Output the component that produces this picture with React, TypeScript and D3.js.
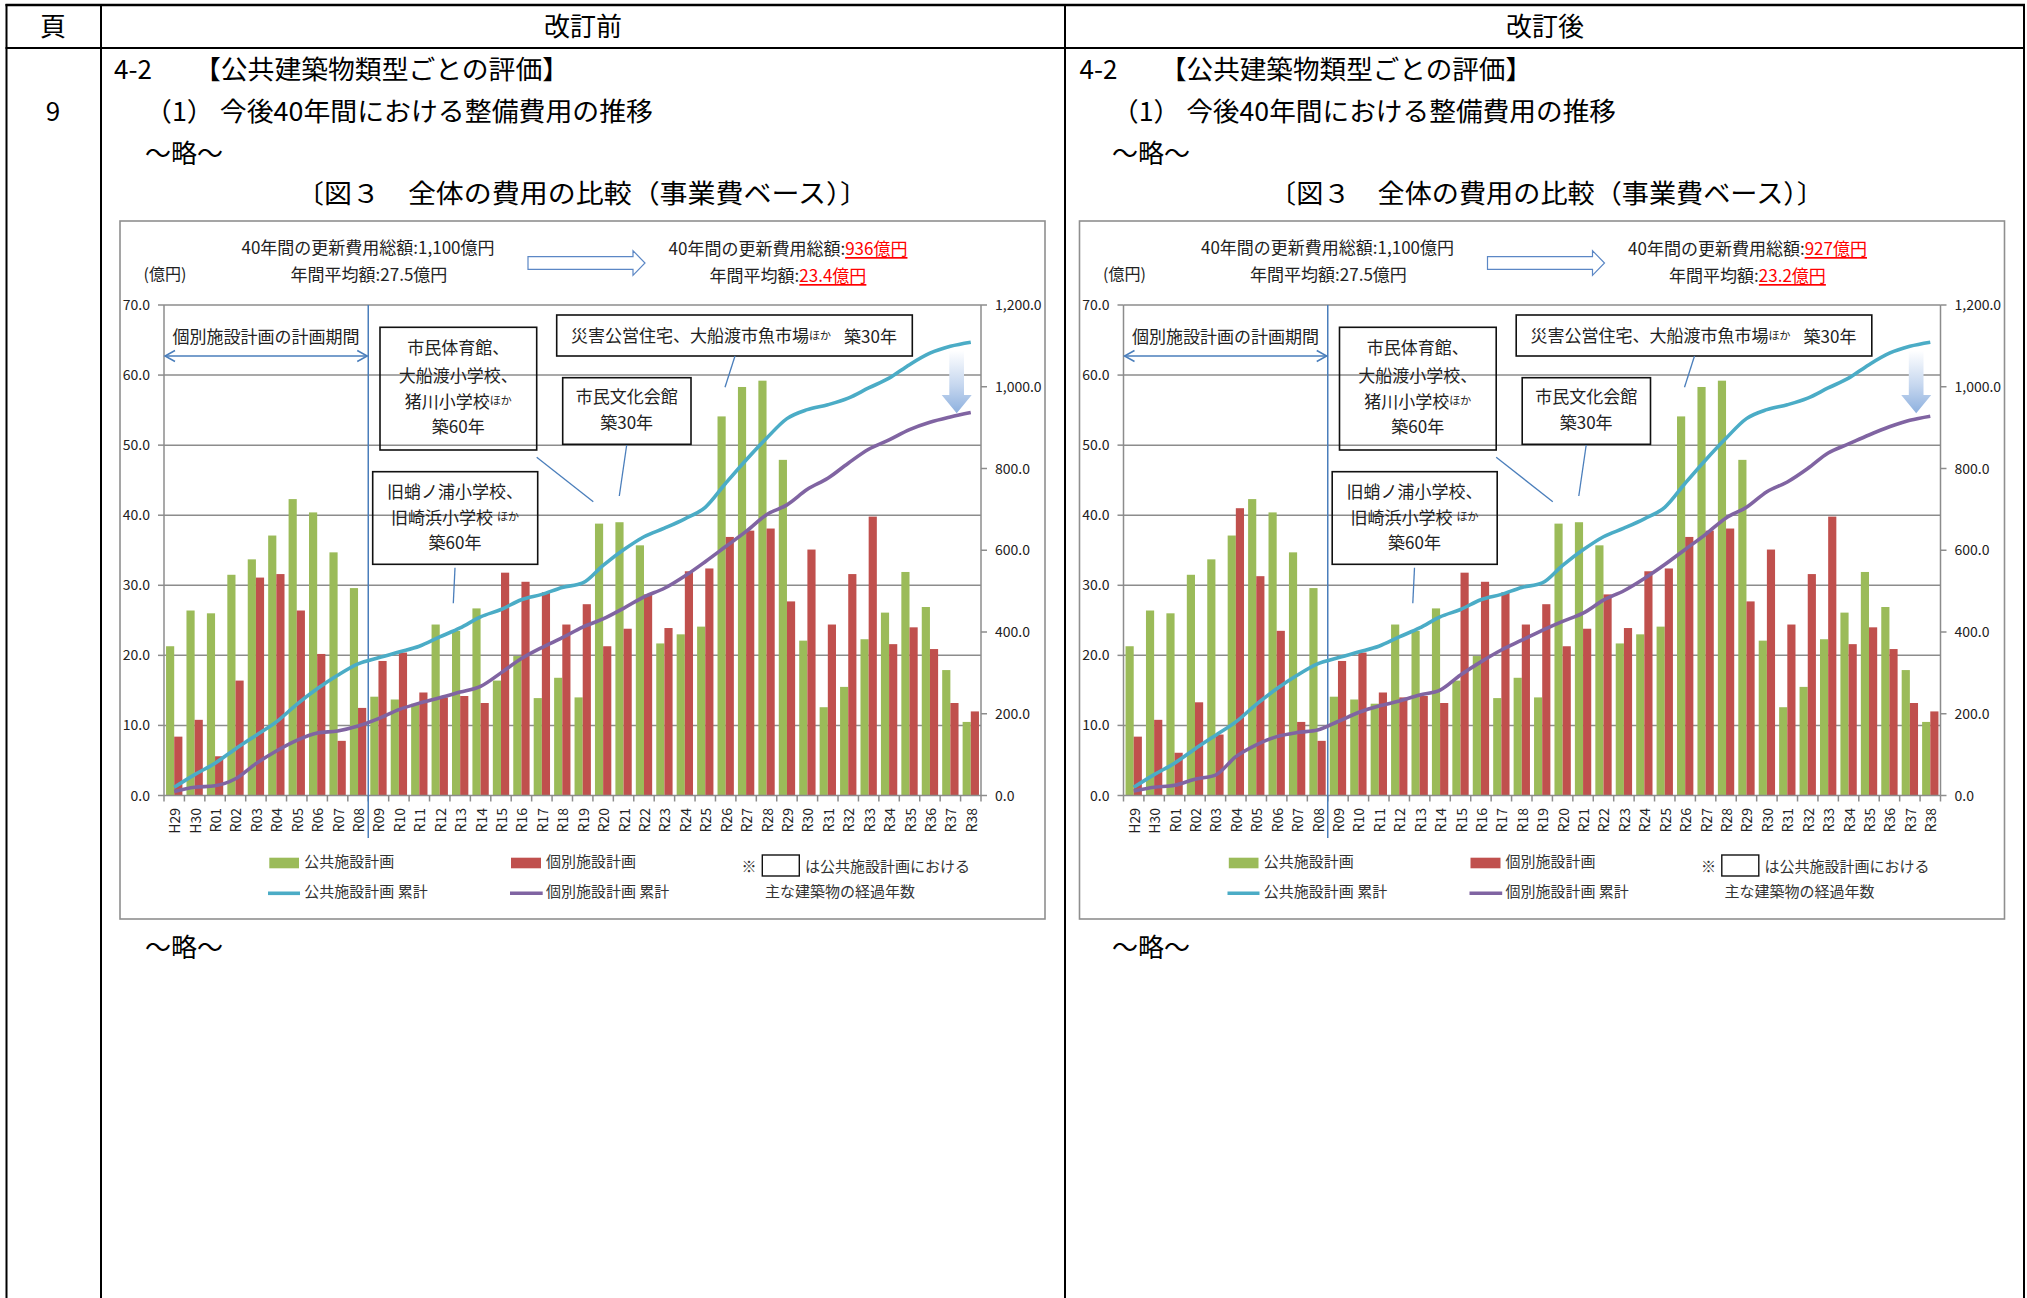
import React from "react";
import * as d3 from "d3";

const categories = ["H29","H30","R01","R02","R03","R04","R05","R06","R07","R08","R09","R10","R11","R12","R13","R14","R15","R16","R17","R18","R19","R20","R21","R22","R23","R24","R25","R26","R27","R28","R29","R30","R31","R32","R33","R34","R35","R36","R37","R38"];

// 公共施設計画 (億円) – same in both charts
const publicPlan = [21.3, 26.4, 26.0, 31.5, 33.7, 37.1, 42.3, 40.4, 34.7, 29.6,
  14.1, 13.7, 13.1, 24.4, 23.5, 26.7, 16.4, 19.9, 13.9, 16.8, 14.0,
  38.8, 39.0, 35.7, 21.7, 23.0, 24.1, 54.1, 58.3, 59.2, 47.9,
  22.1, 12.6, 15.5, 22.3, 26.1, 31.9, 26.9, 17.9, 10.5];

// 個別施設計画 (改訂前)
const individualBefore = [8.4, 10.8, 5.6, 16.4, 31.1, 31.6, 26.4, 20.2, 7.8, 12.5,
  19.2, 20.4, 14.7, 14.0, 14.2, 13.2, 31.8, 30.5, 29.0, 24.4, 27.3,
  21.3, 23.8, 28.7, 23.9, 32.0, 32.4, 36.9, 37.8, 38.1, 27.7,
  35.1, 24.4, 31.6, 39.8, 21.6, 24.0, 20.9, 13.2, 12.0];

// 個別施設計画 (改訂後)
const individualAfter = [8.4, 10.8, 6.1, 13.3, 8.7, 41.0, 31.3, 23.5, 10.5, 7.8,
  19.2, 20.4, 14.7, 14.0, 14.2, 13.2, 31.8, 30.5, 29.0, 24.4, 27.3,
  21.3, 23.8, 28.7, 23.9, 32.0, 32.4, 36.9, 37.8, 38.1, 27.7,
  35.1, 24.4, 31.6, 39.8, 21.6, 24.0, 20.9, 13.2, 12.0];

// 公共施設計画 累計 (right axis)
const publicCumulative = [20, 51, 79, 114, 147, 180, 223, 261, 294, 322,
  337, 351, 365, 388, 410, 437, 455, 479, 492, 509, 520,
  563, 601, 633, 654, 677, 705, 764, 821, 874, 922,
  944, 956, 972, 997, 1021, 1054, 1082, 1099, 1109];

// 個別施設計画 累計 (改訂前)
const individualCumBefore = [10, 20, 24, 41, 78, 109, 135, 153, 158, 170,
  188, 210, 226, 239, 253, 267, 300, 335, 362, 386, 412,
  432, 458, 486, 507, 537, 572, 609, 646, 687, 711,
  749, 776, 813, 847, 870, 895, 913, 926, 937];

// 個別施設計画 累計 (改訂後)
const individualCumAfter = [11, 20, 25, 40, 50, 95, 124, 144, 154, 160,
  181, 203, 219, 231, 246, 258, 295, 327, 356, 380, 404,
  426, 446, 478, 501, 531, 565, 602, 639, 679, 705,
  743, 767, 800, 838, 860, 882, 902, 918, 928];

const leftTicks = [0, 10, 20, 30, 40, 50, 60, 70];
const rightTicks = [0, 200, 400, 600, 800, 1000, 1200];

const JP = "'Noto Sans CJK JP', 'Noto Sans', sans-serif";
const GREEN = "#9bbb59", RED = "#c0504d", TEAL = "#4bacc6", PURPLE = "#8064a2", BLUE = "#4a7ebb";
const GRID = "#8c8c8c";
const TXT = "#222";
const S = -2; // baseline correction for CJK text

type ChartProps = { dx: number; total: string; avg: string; red: number[]; purple: number[]; gid: string };

function Chart({ dx, total, avg, red, purple, gid }: ChartProps) {
  const x0 = 164, x1 = 981, yTop = 305, yBot = 795.5;
  const x = d3.scaleBand<string>().domain(categories).range([x0, x1]).paddingInner(0).paddingOuter(0);
  const sub = d3.scaleBand<string>().domain(["g", "r"]).range([0, x.bandwidth()]).paddingInner(0).paddingOuter(0.25);
  const yL = d3.scaleLinear().domain([0, 70]).range([yBot, yTop]);
  const yR = d3.scaleLinear().domain([0, 1200]).range([yBot, yTop]);
  const cx = (i: number) => (x(categories[i]) as number) + x.bandwidth() / 2;
  const line = d3.line<number>().x((_, i) => cx(i)).y((d) => yR(d)).curve(d3.curveMonotoneX);
  const fmtL = d3.format(".1f");
  const fmtR = d3.format(",.1f");
  const splitX = x("R09") as number;
  const boundaries = d3.range(categories.length + 1).map((i) => x0 + i * x.bandwidth());

  return (
    <g transform={`translate(${dx},0)`} fontFamily={JP}>
      {/* frame */}
      <rect x={120} y={221} width={925} height={698} fill="#fff" stroke="#8f8f8f" strokeWidth={1.6} />
      {/* titles */}
      <text x={368} y={249 + S - 1} textAnchor="middle" dominantBaseline="central" fontSize={17} fill={TXT}>40年間の更新費用総額:1,100億円</text>
      <text x={369} y={275 + S} textAnchor="middle" dominantBaseline="central" fontSize={17} fill={TXT}>年間平均額:27.5億円</text>
      <text x={165} y={275 + S} textAnchor="middle" dominantBaseline="central" fontSize={16} fill={TXT}>(億円)</text>
      <text x={788} y={250 + S - 1} textAnchor="middle" dominantBaseline="central" fontSize={17} fill={TXT}>
        40年間の更新費用総額:<tspan fill="#ff0000" style={{ textDecoration: "underline" }}>{total}</tspan>
      </text>
      <text x={788} y={276 + S} textAnchor="middle" dominantBaseline="central" fontSize={17} fill={TXT}>
        年間平均額:<tspan fill="#ff0000" style={{ textDecoration: "underline" }}>{avg}</tspan>
      </text>
      {/* hollow block arrow */}
      <path d="M528,256.7 L633,256.7 L633,250.7 L645,263 L633,275.3 L633,269.3 L528,269.3 Z" fill="#fff" stroke="#5b87c5" strokeWidth={1.2} />

      {/* gridlines */}
      {leftTicks.filter((t) => t > 0).map((t) => (
        <line key={t} x1={x0} x2={x1} y1={yL(t)} y2={yL(t)} stroke={GRID} strokeWidth={1.5} />
      ))}
      {/* bars */}
      {publicPlan.map((v, i) => (
        <rect key={"g" + i} x={(x(categories[i]) as number) + (sub("g") as number)} y={yL(v)} width={sub.bandwidth()} height={yBot - yL(v)} fill={GREEN} />
      ))}
      {red.map((v, i) => (
        <rect key={"r" + i} x={(x(categories[i]) as number) + (sub("r") as number)} y={yL(v)} width={sub.bandwidth()} height={yBot - yL(v)} fill={RED} />
      ))}
      {/* axes */}
      <line x1={x0} x2={x0} y1={yTop} y2={yBot} stroke={GRID} strokeWidth={1.5} />
      <line x1={x1} x2={x1} y1={yTop} y2={yBot} stroke={GRID} strokeWidth={1.5} />
      <line x1={x0} x2={x1} y1={yBot} y2={yBot} stroke={GRID} strokeWidth={1.5} />
      {leftTicks.map((t) => (
        <g key={"lt" + t}>
          <line x1={x0 - 6} x2={x0} y1={yL(t)} y2={yL(t)} stroke={GRID} strokeWidth={1.5} />
          <text x={x0 - 14} y={yL(t) - 1} textAnchor="end" dominantBaseline="central" fontSize={14} fill={TXT}>{fmtL(t)}</text>
        </g>
      ))}
      {rightTicks.map((t) => (
        <g key={"rt" + t}>
          <line x1={x1} x2={x1 + 6} y1={yR(t)} y2={yR(t)} stroke={GRID} strokeWidth={1.5} />
          <text x={x1 + 14} y={yR(t) - 1} textAnchor="start" dominantBaseline="central" fontSize={14} fill={TXT}>{fmtR(t)}</text>
        </g>
      ))}
      {boundaries.map((b, i) => (
        <line key={"bt" + i} x1={b} x2={b} y1={yBot} y2={yBot + 6} stroke={GRID} strokeWidth={1.5} />
      ))}
      {categories.map((c, i) => (
        <text key={c} transform={`translate(${cx(i)},808) rotate(-90)`} textAnchor="end" dominantBaseline="central" fontSize={14} fill={TXT}>{c}</text>
      ))}

      {/* plan period divider */}
      <line x1={splitX} x2={splitX} y1={yTop} y2={838} stroke={BLUE} strokeWidth={1.5} />
      <line x1={x0 + 1} x2={splitX - 1} y1={356} y2={356} stroke={BLUE} strokeWidth={1.5} />
      <path d={`M${x0 + 11},350.5 L${x0 + 1},356 L${x0 + 11},361.5`} fill="none" stroke={BLUE} strokeWidth={1.5} />
      <path d={`M${splitX - 11},350.5 L${splitX - 1},356 L${splitX - 11},361.5`} fill="none" stroke={BLUE} strokeWidth={1.5} />
      <text x={266} y={337 + S} textAnchor="middle" dominantBaseline="central" fontSize={17} fill={TXT}>個別施設計画の計画期間</text>

      {/* cumulative lines */}
      <path d={line(publicCumulative) as string} fill="none" stroke={TEAL} strokeWidth={3.6} strokeLinejoin="round" />
      <path d={line(purple) as string} fill="none" stroke={PURPLE} strokeWidth={3.6} strokeLinejoin="round" />

      {/* annotation boxes */}
      <rect x={380} y={327.3} width={156.7} height={122.7} fill="none" stroke="#111" strokeWidth={1.6} />
      <text textAnchor="middle" fontSize={17} fill={TXT} dominantBaseline="central">
        <tspan x={458.3} y={348.3 + S}>市民体育館、</tspan>
        <tspan x={458.3} y={376 + S}>大船渡小学校、</tspan>
        <tspan x={458.3} y={401.7 + S}>猪川小学校<tspan fontSize={11}>ほか</tspan></tspan>
        <tspan x={458.3} y={427.3 + S}>築60年</tspan>
      </text>
      <rect x={372.7} y={471.7} width={165} height={92.6} fill="none" stroke="#111" strokeWidth={1.6} />
      <text textAnchor="middle" fontSize={17} fill={TXT} dominantBaseline="central">
        <tspan x={455} y={491.7 + S}>旧蛸ノ浦小学校、</tspan>
        <tspan x={455} y={517.7 + S}>旧崎浜小学校 <tspan fontSize={11}>ほか</tspan></tspan>
        <tspan x={455} y={543.3 + S}>築60年</tspan>
      </text>
      <rect x={556.7} y={315} width={355.6} height={41} fill="none" stroke="#111" strokeWidth={1.6} />
      <text x={734} y={336.7 + S} textAnchor="middle" fontSize={17} fill={TXT} dominantBaseline="central">
        災害公営住宅、大船渡市魚市場<tspan fontSize={11}>ほか</tspan><tspan dx={13}>築30年</tspan>
      </text>
      <rect x={562.7} y={377.7} width={128.3} height={66.6} fill="none" stroke="#111" strokeWidth={1.6} />
      <text textAnchor="middle" fontSize={17} fill={TXT} dominantBaseline="central">
        <tspan x={626.7} y={397.3 + S}>市民文化会館</tspan>
        <tspan x={626.7} y={423.3 + S}>築30年</tspan>
      </text>
      {/* leader lines */}
      <line x1={536.7} y1={457.3} x2={593.3} y2={501.7} stroke={BLUE} strokeWidth={1.3} />
      <line x1={455} y1={567.7} x2={453.3} y2={603.3} stroke={BLUE} strokeWidth={1.3} />
      <line x1={626.7} y1={445} x2={619.3} y2={496} stroke={BLUE} strokeWidth={1.3} />
      <line x1={735} y1={356} x2={725} y2={387.3} stroke={BLUE} strokeWidth={1.3} />

      {/* gradient down arrow */}
      <path d="M949.3,350.7 L964,350.7 L964,395 L971.7,395 L956.7,413.3 L941.7,395 L949.3,395 Z" fill={`url(#${gid})`} />

      {/* legend */}
      <rect x={269.3} y={857.7} width={29.7} height={10.6} fill={GREEN} />
      <text x={304.3} y={863 + S - 1} dominantBaseline="central" fontSize={15} fill="#333">公共施設計画</text>
      <rect x={511} y={857.7} width={30} height={10.6} fill={RED} />
      <text x={546} y={863 + S - 1} dominantBaseline="central" fontSize={15} fill="#333">個別施設計画</text>
      <line x1={268} x2={300} y1={893.3} y2={893.3} stroke={TEAL} strokeWidth={3.6} />
      <text x={304.3} y={893 + S - 1} dominantBaseline="central" fontSize={15} fill="#333">公共施設計画 累計</text>
      <line x1={510} x2={542.7} y1={893.3} y2={893.3} stroke={PURPLE} strokeWidth={3.6} />
      <text x={546} y={893 + S - 1} dominantBaseline="central" fontSize={15} fill="#333">個別施設計画 累計</text>
      <text x={749} y={867 + S} textAnchor="middle" dominantBaseline="central" fontSize={15} fill="#333">※</text>
      <rect x={762.3} y={855} width={37} height={21} fill="none" stroke="#111" strokeWidth={1.4} />
      <text x={805} y={867 + S} dominantBaseline="central" fontSize={15} fill="#333">は公共施設計画における</text>
      <text x={765} y={892 + S} dominantBaseline="central" fontSize={15} fill="#333">主な建築物の経過年数</text>
    </g>
  );
}

export default function App() {
  const W = 2027, H = 1298;
  const FS = 26;
  const B = -3; // baseline correction for body text
  return (
    <svg width={W} height={H} style={{ position: "absolute", left: 0, top: 0, display: "block", background: "#fff" }} fontFamily={JP}>
      <defs>
        {["ga", "gb"].map((id) => (
          <linearGradient key={id} id={id} x1="0" y1="0" x2="0" y2="1">
            <stop offset="0" stopColor="#ffffff" />
            <stop offset="0.55" stopColor="#c6d7ef" />
            <stop offset="1" stopColor="#8db0de" />
          </linearGradient>
        ))}
      </defs>
      <rect width={W} height={H} fill="#fff" />
      {/* table */}
      <line x1={5.5} x2={2025} y1={5} y2={5} stroke="#000" strokeWidth={2.5} />
      <line x1={5.5} x2={2025} y1={48} y2={48} stroke="#000" strokeWidth={2} />
      <line x1={6.5} x2={6.5} y1={4} y2={H} stroke="#000" strokeWidth={2} />
      <line x1={101} x2={101} y1={4} y2={H} stroke="#000" strokeWidth={2} />
      <line x1={1065} x2={1065} y1={4} y2={H} stroke="#000" strokeWidth={2} />
      <line x1={2024} x2={2024} y1={4} y2={H} stroke="#000" strokeWidth={2} />
      <text x={53} y={27 + B} textAnchor="middle" dominantBaseline="central" fontSize={FS}>頁</text>
      <text x={583} y={27 + B} textAnchor="middle" dominantBaseline="central" fontSize={FS}>改訂前</text>
      <text x={1545} y={27 + B} textAnchor="middle" dominantBaseline="central" fontSize={FS}>改訂後</text>
      <text x={53} y={112 + B} textAnchor="middle" dominantBaseline="central" fontSize={FS}>9</text>

      {/* left column text */}
      <text x={114} y={70 + B} dominantBaseline="central" fontSize={FS}>4-2</text>
      <text x={194} y={70 + B} dominantBaseline="central" fontSize={FS} textLength={375} lengthAdjust="spacingAndGlyphs">【公共建築物類型ごとの評価】</text>
      <text x={145} y={112 + B} dominantBaseline="central" fontSize={FS} textLength={508} lengthAdjust="spacingAndGlyphs">（1） 今後40年間における整備費用の推移</text>
      <text x={145} y={154 + B} dominantBaseline="central" fontSize={FS}>～略～</text>
      <text x={296} y={194 + B} dominantBaseline="central" fontSize={FS} textLength={572} lengthAdjust="spacingAndGlyphs">〔図３　全体の費用の比較（事業費ベース）〕</text>
      <text x={145} y={948 + B} dominantBaseline="central" fontSize={FS}>～略～</text>

      {/* right column text */}
      <text x={1079.5} y={70 + B} dominantBaseline="central" fontSize={FS}>4-2</text>
      <text x={1160} y={70 + B} dominantBaseline="central" fontSize={FS} textLength={372} lengthAdjust="spacingAndGlyphs">【公共建築物類型ごとの評価】</text>
      <text x={1112} y={112 + B} dominantBaseline="central" fontSize={FS} textLength={504} lengthAdjust="spacingAndGlyphs">（1） 今後40年間における整備費用の推移</text>
      <text x={1112} y={154 + B} dominantBaseline="central" fontSize={FS}>～略～</text>
      <text x={1269} y={194 + B} dominantBaseline="central" fontSize={FS} textLength={555} lengthAdjust="spacingAndGlyphs">〔図３　全体の費用の比較（事業費ベース）〕</text>
      <text x={1112} y={948 + B} dominantBaseline="central" fontSize={FS}>～略～</text>

      <Chart dx={0} total="936億円" avg="23.4億円" red={individualBefore} purple={individualCumBefore} gid="ga" />
      <Chart dx={959.5} total="927億円" avg="23.2億円" red={individualAfter} purple={individualCumAfter} gid="gb" />
    </svg>
  );
}
